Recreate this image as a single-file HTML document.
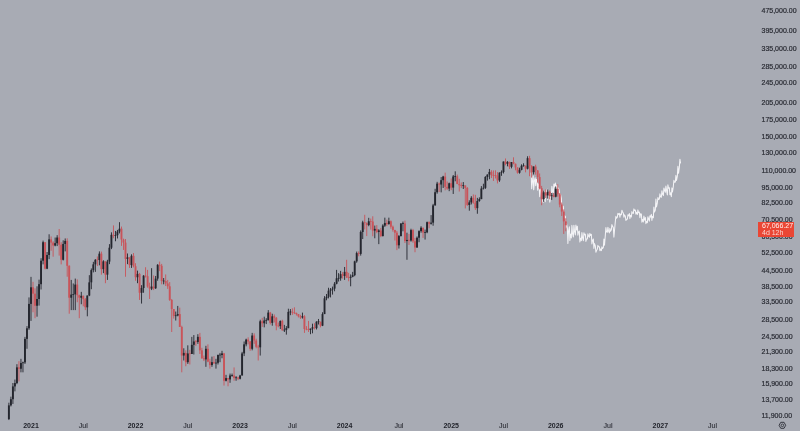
<!DOCTYPE html>
<html><head><meta charset="utf-8"><style>
*{margin:0;padding:0;box-sizing:border-box}
html,body{width:800px;height:431px;overflow:hidden;background:#a8abb4}
body{position:relative;font-family:"Liberation Sans",sans-serif}
svg{position:absolute;left:0;top:0}
.txt{position:absolute;left:0;top:0;width:800px;height:431px;will-change:transform}
.pl{position:absolute;left:761.5px;font-size:7px;line-height:9px;color:#2a2c34;white-space:nowrap;-webkit-text-stroke:0.2px #2a2c34}
.tl{position:absolute;top:420.5px;width:40px;text-align:center;font-size:7px;line-height:9px;color:#2b2d35;-webkit-text-stroke:0.1px #2b2d35}
.tl.b{font-weight:bold;color:#1e2028;-webkit-text-stroke:0}
.tag{position:absolute;left:757.7px;top:222px;width:36.7px;height:15.3px;background:#ea4634;color:#fff3f0;font-size:7px;line-height:6.5px;padding:1px 0 0 4.3px}
.tag span{opacity:.82}
.gear{position:absolute;left:777px;top:420px}
</style></head><body>
<svg width="800" height="431" viewBox="0 0 800 431" style="filter:blur(0.3px)">
<polyline points="531.15,172.9 531.70,188.8 532.30,182.4 533.15,175.9 533.70,189.8 534.30,181.4 535.15,177.7 535.70,185.7 536.30,179.3 537.15,181.5 537.70,190.2 538.30,183.9 539.15,186.6 539.70,196.8 540.30,189.4 541.25,191.1 541.80,202.4 542.40,199.4 543.25,202.1 543.80,190.7 544.40,199.5 545.25,201.7 545.80,190.3 546.40,194.2 547.25,189.2 547.80,199.8 548.40,193.3 549.25,192.2 549.80,202.1 550.40,198.0 551.35,195.5 551.90,186.3 552.50,191.2 553.35,193.0 553.90,184.0 554.50,186.9 555.35,183.0 555.90,190.8 556.50,186.2 557.35,185.1 557.90,192.8 558.50,188.1 559.35,191.0 559.90,199.9 560.50,194.3 561.35,198.4 561.90,208.5 562.50,205.6 563.35,206.5 563.90,218.0 564.50,215.6 565.35,216.4 565.90,228.0 566.50,223.7 567.35,228.1 567.90,243.5 568.50,231.4 569.35,226.8 569.90,240.4 570.50,234.0 571.35,237.9 571.90,225.4 572.50,233.3 573.35,237.0 573.90,225.3 574.50,230.9 575.35,235.0 575.90,225.1 576.50,229.9 577.35,226.2 577.90,235.1 578.50,232.0 579.35,231.1 579.90,242.0 580.50,238.2 581.35,240.6 581.90,232.5 582.50,237.3 583.35,240.7 583.90,232.7 584.50,234.9 585.35,234.2 585.90,241.4 586.50,239.0 587.35,239.0 587.90,233.8 588.50,236.0 589.35,237.2 589.90,233.4 590.50,235.4 591.35,234.4 591.90,244.0 592.50,240.6 593.35,239.0 593.90,248.4 594.50,243.6 595.35,246.0 595.90,252.3 596.50,250.6 597.35,249.2 597.90,245.4 598.50,246.7 599.35,246.8 599.90,250.8 600.50,249.0 601.35,250.6 601.90,246.8 602.50,248.6 603.35,247.5 603.90,239.0 604.50,245.3 605.35,234.9 605.90,227.5 606.50,231.7 607.35,232.3 607.90,227.2 608.50,231.1 609.35,232.9 609.90,228.4 610.50,231.3 611.35,229.7 611.90,224.6 612.50,226.0 613.35,227.8 613.90,237.1 614.50,230.5 615.35,221.3 615.90,216.3 616.50,218.3 617.35,217.1 617.90,213.4 618.50,214.4 619.35,213.3 619.90,217.3 620.50,214.1 621.35,214.7 621.90,210.2 622.50,211.7 623.35,213.3 623.90,217.3 624.50,214.9 625.35,216.2 625.90,220.5 626.50,219.3 627.35,219.3 627.90,214.7 628.50,215.9 629.35,213.6 629.90,218.6 630.50,215.3 631.35,217.0 631.90,211.6 632.50,213.1 633.35,213.4 633.90,208.9 634.50,210.4 635.35,210.1 635.90,214.1 636.50,212.3 637.35,214.5 637.90,209.9 638.50,212.7 639.35,212.1 639.90,217.8 640.50,213.8 641.35,214.0 641.90,222.2 642.50,219.4 643.35,221.9 643.90,216.1 644.50,220.1 645.35,217.6 645.90,223.7 646.50,221.6 647.35,222.7 647.90,216.7 648.50,218.8 649.35,221.1 649.90,215.8 650.50,217.1 651.35,214.4 651.90,220.4 652.50,216.4 653.35,217.8 653.90,207.1 654.50,212.0 655.35,210.0 655.90,199.0 656.50,207.0 657.35,202.9 657.90,197.5 658.50,199.4 659.35,199.0 659.90,193.8 660.50,196.8 661.35,197.3 661.90,190.7 662.50,193.9 663.35,195.6 663.90,188.0 664.50,190.1 665.35,192.2 665.90,186.1 666.50,189.9 667.35,194.9 667.90,184.8 668.50,188.2 669.35,187.8 669.90,194.8 670.50,192.7 671.35,196.6 671.90,187.9 672.50,192.0 673.35,186.3 673.90,180.3 674.50,182.3 675.35,182.1 675.90,175.4 676.50,180.4 677.35,176.1 677.90,166.2 678.50,173.3 679.35,167.5 679.90,159.2 680.50,162.9" fill="none" stroke="#f3f3f6" stroke-width="1.05" stroke-linejoin="round" stroke-linecap="round"/>
<rect x="8.43" y="402.69" width="0.9" height="17.35" fill="#24262e"/>
<rect x="7.93" y="405.36" width="1.9" height="13.73" fill="#24262e"/>
<rect x="10.45" y="396.68" width="0.9" height="9.78" fill="#24262e"/>
<rect x="9.95" y="399.21" width="1.9" height="6.15" fill="#24262e"/>
<rect x="12.46" y="383.00" width="0.9" height="20.94" fill="#24262e"/>
<rect x="11.96" y="386.42" width="1.9" height="12.78" fill="#24262e"/>
<rect x="14.47" y="379.54" width="0.9" height="11.82" fill="#24262e"/>
<rect x="13.97" y="383.07" width="1.9" height="3.36" fill="#24262e"/>
<rect x="16.48" y="364.19" width="0.9" height="19.98" fill="#24262e"/>
<rect x="15.98" y="367.37" width="1.9" height="15.69" fill="#24262e"/>
<rect x="18.49" y="361.16" width="0.9" height="20.26" fill="#c9545a"/>
<rect x="17.99" y="367.37" width="1.9" height="1.38" fill="#c9545a"/>
<rect x="20.50" y="358.82" width="0.9" height="13.50" fill="#24262e"/>
<rect x="20.00" y="363.04" width="1.9" height="5.71" fill="#24262e"/>
<rect x="22.51" y="361.62" width="0.9" height="10.70" fill="#24262e"/>
<rect x="22.01" y="362.33" width="1.9" height="0.80" fill="#24262e"/>
<rect x="24.52" y="336.87" width="0.9" height="27.04" fill="#24262e"/>
<rect x="24.02" y="338.87" width="1.9" height="23.54" fill="#24262e"/>
<rect x="26.53" y="326.10" width="0.9" height="22.69" fill="#24262e"/>
<rect x="26.03" y="328.30" width="1.9" height="10.58" fill="#24262e"/>
<rect x="28.54" y="297.40" width="0.9" height="32.46" fill="#24262e"/>
<rect x="28.04" y="303.90" width="1.9" height="24.40" fill="#24262e"/>
<rect x="30.55" y="276.86" width="0.9" height="44.04" fill="#24262e"/>
<rect x="30.05" y="287.30" width="1.9" height="16.61" fill="#24262e"/>
<rect x="32.56" y="281.82" width="0.9" height="30.44" fill="#c9545a"/>
<rect x="32.06" y="287.30" width="1.9" height="6.37" fill="#c9545a"/>
<rect x="34.57" y="288.31" width="0.9" height="29.89" fill="#c9545a"/>
<rect x="34.07" y="293.67" width="1.9" height="12.09" fill="#c9545a"/>
<rect x="36.58" y="286.29" width="0.9" height="30.39" fill="#24262e"/>
<rect x="36.08" y="298.99" width="1.9" height="6.77" fill="#24262e"/>
<rect x="38.59" y="279.65" width="0.9" height="25.94" fill="#24262e"/>
<rect x="38.09" y="284.17" width="1.9" height="14.82" fill="#24262e"/>
<rect x="40.60" y="258.23" width="0.9" height="31.25" fill="#24262e"/>
<rect x="40.10" y="260.69" width="1.9" height="23.48" fill="#24262e"/>
<rect x="42.61" y="240.59" width="0.9" height="23.77" fill="#24262e"/>
<rect x="42.11" y="242.21" width="1.9" height="18.48" fill="#24262e"/>
<rect x="44.62" y="242.21" width="0.9" height="27.18" fill="#c9545a"/>
<rect x="44.12" y="242.21" width="1.9" height="26.45" fill="#c9545a"/>
<rect x="46.63" y="252.00" width="0.9" height="17.15" fill="#24262e"/>
<rect x="46.13" y="254.96" width="1.9" height="13.70" fill="#24262e"/>
<rect x="48.64" y="234.28" width="0.9" height="24.84" fill="#24262e"/>
<rect x="48.14" y="239.38" width="1.9" height="15.58" fill="#24262e"/>
<rect x="50.66" y="236.44" width="0.9" height="14.31" fill="#c9545a"/>
<rect x="50.16" y="239.38" width="1.9" height="3.21" fill="#c9545a"/>
<rect x="52.67" y="241.26" width="0.9" height="15.44" fill="#c9545a"/>
<rect x="52.17" y="242.59" width="1.9" height="2.92" fill="#c9545a"/>
<rect x="54.68" y="237.53" width="0.9" height="8.77" fill="#24262e"/>
<rect x="54.18" y="243.17" width="1.9" height="2.34" fill="#24262e"/>
<rect x="56.69" y="235.17" width="0.9" height="10.92" fill="#24262e"/>
<rect x="56.19" y="237.53" width="1.9" height="5.64" fill="#24262e"/>
<rect x="58.70" y="228.99" width="0.9" height="26.62" fill="#c9545a"/>
<rect x="58.20" y="237.53" width="1.9" height="7.19" fill="#c9545a"/>
<rect x="60.71" y="242.21" width="0.9" height="22.16" fill="#c9545a"/>
<rect x="60.21" y="244.72" width="1.9" height="15.07" fill="#c9545a"/>
<rect x="62.72" y="240.31" width="0.9" height="20.15" fill="#24262e"/>
<rect x="62.22" y="243.94" width="1.9" height="15.85" fill="#24262e"/>
<rect x="64.73" y="238.45" width="0.9" height="12.92" fill="#24262e"/>
<rect x="64.23" y="240.88" width="1.9" height="3.06" fill="#24262e"/>
<rect x="66.74" y="238.27" width="0.9" height="38.46" fill="#c9545a"/>
<rect x="66.24" y="240.88" width="1.9" height="24.90" fill="#c9545a"/>
<rect x="68.75" y="265.31" width="0.9" height="48.40" fill="#c9545a"/>
<rect x="68.25" y="265.78" width="1.9" height="31.93" fill="#c9545a"/>
<rect x="70.76" y="279.91" width="0.9" height="30.19" fill="#24262e"/>
<rect x="70.26" y="294.59" width="1.9" height="3.12" fill="#24262e"/>
<rect x="72.77" y="283.47" width="0.9" height="26.63" fill="#24262e"/>
<rect x="72.27" y="294.04" width="1.9" height="0.80" fill="#24262e"/>
<rect x="74.78" y="278.58" width="0.9" height="31.53" fill="#24262e"/>
<rect x="74.28" y="284.59" width="1.9" height="9.69" fill="#24262e"/>
<rect x="76.79" y="279.38" width="0.9" height="22.86" fill="#c9545a"/>
<rect x="76.29" y="284.59" width="1.9" height="10.62" fill="#c9545a"/>
<rect x="78.80" y="294.59" width="0.9" height="23.60" fill="#c9545a"/>
<rect x="78.30" y="295.21" width="1.9" height="2.50" fill="#c9545a"/>
<rect x="80.81" y="291.85" width="0.9" height="12.38" fill="#24262e"/>
<rect x="80.31" y="295.83" width="1.9" height="1.88" fill="#24262e"/>
<rect x="82.82" y="295.52" width="0.9" height="10.75" fill="#c9545a"/>
<rect x="82.32" y="295.83" width="1.9" height="3.35" fill="#c9545a"/>
<rect x="84.83" y="298.03" width="0.9" height="12.07" fill="#c9545a"/>
<rect x="84.33" y="299.18" width="1.9" height="8.12" fill="#c9545a"/>
<rect x="86.84" y="295.52" width="0.9" height="20.78" fill="#24262e"/>
<rect x="86.34" y="295.52" width="1.9" height="11.79" fill="#24262e"/>
<rect x="88.85" y="275.17" width="0.9" height="20.97" fill="#24262e"/>
<rect x="88.35" y="282.37" width="1.9" height="13.15" fill="#24262e"/>
<rect x="90.86" y="268.42" width="0.9" height="20.77" fill="#24262e"/>
<rect x="90.36" y="270.13" width="1.9" height="12.24" fill="#24262e"/>
<rect x="92.88" y="261.83" width="0.9" height="10.54" fill="#24262e"/>
<rect x="92.38" y="264.37" width="1.9" height="5.76" fill="#24262e"/>
<rect x="94.89" y="259.12" width="0.9" height="12.75" fill="#24262e"/>
<rect x="94.39" y="259.79" width="1.9" height="4.58" fill="#24262e"/>
<rect x="96.90" y="256.47" width="0.9" height="9.54" fill="#c9545a"/>
<rect x="96.40" y="259.50" width="1.9" height="0.80" fill="#c9545a"/>
<rect x="98.91" y="251.37" width="0.9" height="13.94" fill="#24262e"/>
<rect x="98.41" y="253.68" width="1.9" height="6.33" fill="#24262e"/>
<rect x="100.92" y="251.58" width="0.9" height="23.08" fill="#c9545a"/>
<rect x="100.42" y="253.68" width="1.9" height="15.47" fill="#c9545a"/>
<rect x="102.93" y="260.24" width="0.9" height="12.89" fill="#24262e"/>
<rect x="102.43" y="261.37" width="1.9" height="7.78" fill="#24262e"/>
<rect x="104.94" y="261.37" width="0.9" height="21.83" fill="#c9545a"/>
<rect x="104.44" y="261.37" width="1.9" height="13.29" fill="#c9545a"/>
<rect x="106.95" y="259.79" width="0.9" height="20.13" fill="#24262e"/>
<rect x="106.45" y="261.60" width="1.9" height="13.06" fill="#24262e"/>
<rect x="108.96" y="244.14" width="0.9" height="20.00" fill="#24262e"/>
<rect x="108.46" y="247.69" width="1.9" height="13.90" fill="#24262e"/>
<rect x="110.97" y="232.34" width="0.9" height="16.77" fill="#24262e"/>
<rect x="110.47" y="234.82" width="1.9" height="12.88" fill="#24262e"/>
<rect x="112.98" y="225.40" width="0.9" height="12.86" fill="#c9545a"/>
<rect x="112.48" y="234.82" width="1.9" height="1.08" fill="#c9545a"/>
<rect x="114.99" y="230.95" width="0.9" height="10.30" fill="#24262e"/>
<rect x="114.49" y="235.13" width="1.9" height="0.80" fill="#24262e"/>
<rect x="117.00" y="229.92" width="0.9" height="8.53" fill="#24262e"/>
<rect x="116.50" y="231.65" width="1.9" height="3.53" fill="#24262e"/>
<rect x="119.01" y="222.17" width="0.9" height="11.23" fill="#24262e"/>
<rect x="118.51" y="228.73" width="1.9" height="2.91" fill="#24262e"/>
<rect x="121.02" y="226.56" width="0.9" height="19.34" fill="#c9545a"/>
<rect x="120.52" y="228.73" width="1.9" height="10.83" fill="#c9545a"/>
<rect x="123.03" y="238.63" width="0.9" height="11.29" fill="#c9545a"/>
<rect x="122.53" y="239.56" width="1.9" height="3.03" fill="#c9545a"/>
<rect x="125.04" y="239.01" width="0.9" height="37.72" fill="#c9545a"/>
<rect x="124.54" y="242.59" width="1.9" height="16.30" fill="#c9545a"/>
<rect x="127.05" y="253.47" width="0.9" height="10.67" fill="#24262e"/>
<rect x="126.55" y="257.35" width="1.9" height="1.55" fill="#24262e"/>
<rect x="129.06" y="257.35" width="0.9" height="10.58" fill="#c9545a"/>
<rect x="128.56" y="257.35" width="1.9" height="7.72" fill="#c9545a"/>
<rect x="131.07" y="254.32" width="0.9" height="13.61" fill="#24262e"/>
<rect x="130.57" y="255.82" width="1.9" height="9.25" fill="#24262e"/>
<rect x="133.09" y="253.05" width="0.9" height="14.40" fill="#c9545a"/>
<rect x="132.59" y="255.82" width="1.9" height="10.43" fill="#c9545a"/>
<rect x="135.10" y="263.20" width="0.9" height="17.52" fill="#c9545a"/>
<rect x="134.60" y="266.25" width="1.9" height="11.00" fill="#c9545a"/>
<rect x="137.11" y="270.62" width="0.9" height="12.57" fill="#24262e"/>
<rect x="136.61" y="273.89" width="1.9" height="3.37" fill="#24262e"/>
<rect x="139.12" y="272.87" width="0.9" height="27.08" fill="#c9545a"/>
<rect x="138.62" y="273.89" width="1.9" height="18.87" fill="#c9545a"/>
<rect x="141.13" y="285.16" width="0.9" height="18.41" fill="#24262e"/>
<rect x="140.63" y="288.02" width="1.9" height="4.74" fill="#24262e"/>
<rect x="143.14" y="275.17" width="0.9" height="17.59" fill="#24262e"/>
<rect x="142.64" y="275.69" width="1.9" height="12.33" fill="#24262e"/>
<rect x="145.15" y="267.21" width="0.9" height="10.31" fill="#c9545a"/>
<rect x="144.65" y="275.55" width="1.9" height="0.80" fill="#c9545a"/>
<rect x="147.16" y="269.88" width="0.9" height="17.85" fill="#c9545a"/>
<rect x="146.66" y="276.21" width="1.9" height="10.37" fill="#c9545a"/>
<rect x="149.17" y="282.64" width="0.9" height="16.34" fill="#c9545a"/>
<rect x="148.67" y="286.58" width="1.9" height="2.02" fill="#c9545a"/>
<rect x="151.18" y="268.17" width="0.9" height="21.89" fill="#24262e"/>
<rect x="150.68" y="286.58" width="1.9" height="2.02" fill="#24262e"/>
<rect x="153.19" y="275.43" width="0.9" height="14.64" fill="#c9545a"/>
<rect x="152.69" y="286.58" width="1.9" height="1.73" fill="#c9545a"/>
<rect x="155.20" y="275.95" width="0.9" height="12.94" fill="#24262e"/>
<rect x="154.70" y="278.58" width="1.9" height="9.73" fill="#24262e"/>
<rect x="157.21" y="264.13" width="0.9" height="16.59" fill="#24262e"/>
<rect x="156.71" y="264.84" width="1.9" height="13.74" fill="#24262e"/>
<rect x="159.22" y="261.60" width="0.9" height="9.52" fill="#c9545a"/>
<rect x="158.72" y="264.84" width="1.9" height="0.94" fill="#c9545a"/>
<rect x="161.23" y="263.90" width="0.9" height="20.41" fill="#c9545a"/>
<rect x="160.73" y="265.78" width="1.9" height="15.22" fill="#c9545a"/>
<rect x="163.24" y="278.05" width="0.9" height="6.27" fill="#24262e"/>
<rect x="162.74" y="280.60" width="1.9" height="0.80" fill="#24262e"/>
<rect x="165.25" y="274.40" width="0.9" height="11.61" fill="#c9545a"/>
<rect x="164.75" y="281.00" width="1.9" height="2.48" fill="#c9545a"/>
<rect x="167.26" y="279.91" width="0.9" height="8.98" fill="#c9545a"/>
<rect x="166.76" y="283.47" width="1.9" height="2.82" fill="#c9545a"/>
<rect x="169.27" y="282.09" width="0.9" height="18.83" fill="#c9545a"/>
<rect x="168.77" y="286.29" width="1.9" height="13.66" fill="#c9545a"/>
<rect x="171.28" y="298.99" width="0.9" height="33.01" fill="#c9545a"/>
<rect x="170.78" y="299.95" width="1.9" height="9.09" fill="#c9545a"/>
<rect x="173.30" y="309.05" width="0.9" height="9.53" fill="#c9545a"/>
<rect x="172.80" y="309.05" width="1.9" height="6.88" fill="#c9545a"/>
<rect x="175.31" y="311.53" width="0.9" height="8.98" fill="#24262e"/>
<rect x="174.81" y="315.34" width="1.9" height="0.80" fill="#24262e"/>
<rect x="177.32" y="305.93" width="0.9" height="10.37" fill="#24262e"/>
<rect x="176.82" y="314.07" width="1.9" height="1.48" fill="#24262e"/>
<rect x="179.33" y="307.65" width="0.9" height="19.28" fill="#c9545a"/>
<rect x="178.83" y="314.07" width="1.9" height="12.85" fill="#c9545a"/>
<rect x="181.34" y="325.69" width="0.9" height="46.62" fill="#c9545a"/>
<rect x="180.84" y="326.93" width="1.9" height="28.63" fill="#c9545a"/>
<rect x="183.35" y="348.29" width="0.9" height="12.19" fill="#24262e"/>
<rect x="182.85" y="352.91" width="1.9" height="2.65" fill="#24262e"/>
<rect x="185.36" y="350.32" width="0.9" height="15.92" fill="#c9545a"/>
<rect x="184.86" y="352.91" width="1.9" height="9.28" fill="#c9545a"/>
<rect x="187.37" y="345.32" width="0.9" height="18.58" fill="#24262e"/>
<rect x="186.87" y="353.43" width="1.9" height="8.75" fill="#24262e"/>
<rect x="189.38" y="349.81" width="0.9" height="14.68" fill="#c9545a"/>
<rect x="188.88" y="353.29" width="1.9" height="0.80" fill="#c9545a"/>
<rect x="191.39" y="336.87" width="0.9" height="17.09" fill="#24262e"/>
<rect x="190.89" y="344.84" width="1.9" height="9.12" fill="#24262e"/>
<rect x="193.40" y="335.07" width="0.9" height="19.42" fill="#24262e"/>
<rect x="192.90" y="341.48" width="1.9" height="3.35" fill="#24262e"/>
<rect x="195.41" y="340.08" width="0.9" height="5.74" fill="#c9545a"/>
<rect x="194.91" y="341.32" width="1.9" height="0.80" fill="#c9545a"/>
<rect x="197.42" y="334.18" width="0.9" height="9.68" fill="#24262e"/>
<rect x="196.92" y="336.87" width="1.9" height="5.09" fill="#24262e"/>
<rect x="199.43" y="332.87" width="0.9" height="21.09" fill="#c9545a"/>
<rect x="198.93" y="336.87" width="1.9" height="13.45" fill="#c9545a"/>
<rect x="201.44" y="347.79" width="0.9" height="11.03" fill="#c9545a"/>
<rect x="200.94" y="350.32" width="1.9" height="7.95" fill="#c9545a"/>
<rect x="203.45" y="355.55" width="0.9" height="5.50" fill="#c9545a"/>
<rect x="202.95" y="358.27" width="1.9" height="1.10" fill="#c9545a"/>
<rect x="205.46" y="345.81" width="0.9" height="21.02" fill="#24262e"/>
<rect x="204.96" y="348.80" width="1.9" height="10.58" fill="#24262e"/>
<rect x="207.47" y="344.35" width="0.9" height="17.83" fill="#c9545a"/>
<rect x="206.97" y="348.80" width="1.9" height="12.82" fill="#c9545a"/>
<rect x="209.48" y="358.82" width="0.9" height="9.81" fill="#c9545a"/>
<rect x="208.98" y="361.62" width="1.9" height="3.45" fill="#c9545a"/>
<rect x="211.50" y="356.63" width="0.9" height="10.20" fill="#24262e"/>
<rect x="211.00" y="362.18" width="1.9" height="2.88" fill="#24262e"/>
<rect x="213.51" y="356.09" width="0.9" height="7.81" fill="#c9545a"/>
<rect x="213.01" y="362.18" width="1.9" height="1.14" fill="#c9545a"/>
<rect x="215.52" y="358.82" width="0.9" height="9.81" fill="#24262e"/>
<rect x="215.02" y="362.64" width="1.9" height="0.80" fill="#24262e"/>
<rect x="217.53" y="354.49" width="0.9" height="10.00" fill="#24262e"/>
<rect x="217.03" y="355.02" width="1.9" height="7.73" fill="#24262e"/>
<rect x="219.54" y="352.91" width="0.9" height="9.28" fill="#24262e"/>
<rect x="219.04" y="354.62" width="1.9" height="0.80" fill="#24262e"/>
<rect x="221.55" y="350.83" width="0.9" height="7.44" fill="#24262e"/>
<rect x="221.05" y="353.43" width="1.9" height="1.59" fill="#24262e"/>
<rect x="223.56" y="352.91" width="0.9" height="32.67" fill="#c9545a"/>
<rect x="223.06" y="353.43" width="1.9" height="27.32" fill="#c9545a"/>
<rect x="225.57" y="374.84" width="0.9" height="6.58" fill="#24262e"/>
<rect x="225.07" y="378.09" width="1.9" height="2.66" fill="#24262e"/>
<rect x="227.58" y="378.09" width="0.9" height="8.20" fill="#c9545a"/>
<rect x="227.08" y="378.09" width="1.9" height="1.32" fill="#c9545a"/>
<rect x="229.59" y="373.57" width="0.9" height="9.22" fill="#24262e"/>
<rect x="229.09" y="375.48" width="1.9" height="3.93" fill="#24262e"/>
<rect x="231.60" y="373.57" width="0.9" height="3.20" fill="#24262e"/>
<rect x="231.10" y="375.08" width="1.9" height="0.80" fill="#24262e"/>
<rect x="233.61" y="367.43" width="0.9" height="13.32" fill="#c9545a"/>
<rect x="233.11" y="375.48" width="1.9" height="2.60" fill="#c9545a"/>
<rect x="235.62" y="376.13" width="0.9" height="4.62" fill="#24262e"/>
<rect x="235.12" y="377.36" width="1.9" height="0.80" fill="#24262e"/>
<rect x="237.63" y="376.78" width="0.9" height="3.30" fill="#c9545a"/>
<rect x="237.13" y="377.43" width="1.9" height="1.32" fill="#c9545a"/>
<rect x="239.64" y="374.84" width="0.9" height="4.57" fill="#24262e"/>
<rect x="239.14" y="375.48" width="1.9" height="3.26" fill="#24262e"/>
<rect x="241.65" y="351.86" width="0.9" height="23.62" fill="#24262e"/>
<rect x="241.15" y="353.43" width="1.9" height="22.05" fill="#24262e"/>
<rect x="243.66" y="341.48" width="0.9" height="14.61" fill="#24262e"/>
<rect x="243.16" y="344.35" width="1.9" height="9.08" fill="#24262e"/>
<rect x="245.67" y="338.69" width="0.9" height="7.62" fill="#24262e"/>
<rect x="245.17" y="339.61" width="1.9" height="4.74" fill="#24262e"/>
<rect x="247.68" y="337.32" width="0.9" height="7.03" fill="#c9545a"/>
<rect x="247.18" y="339.61" width="1.9" height="1.87" fill="#c9545a"/>
<rect x="249.69" y="341.01" width="0.9" height="9.82" fill="#c9545a"/>
<rect x="249.19" y="341.48" width="1.9" height="7.31" fill="#c9545a"/>
<rect x="251.71" y="332.87" width="0.9" height="17.45" fill="#24262e"/>
<rect x="251.21" y="335.52" width="1.9" height="13.28" fill="#24262e"/>
<rect x="253.72" y="333.31" width="0.9" height="10.56" fill="#c9545a"/>
<rect x="253.22" y="335.52" width="1.9" height="5.03" fill="#c9545a"/>
<rect x="255.73" y="338.69" width="0.9" height="9.60" fill="#c9545a"/>
<rect x="255.23" y="340.54" width="1.9" height="6.25" fill="#c9545a"/>
<rect x="257.74" y="344.84" width="0.9" height="15.65" fill="#c9545a"/>
<rect x="257.24" y="346.65" width="1.9" height="0.80" fill="#c9545a"/>
<rect x="259.75" y="319.73" width="0.9" height="35.82" fill="#24262e"/>
<rect x="259.25" y="321.29" width="1.9" height="26.01" fill="#24262e"/>
<rect x="261.76" y="317.81" width="0.9" height="9.11" fill="#c9545a"/>
<rect x="261.26" y="321.29" width="1.9" height="1.98" fill="#c9545a"/>
<rect x="263.77" y="316.68" width="0.9" height="10.66" fill="#24262e"/>
<rect x="263.27" y="320.51" width="1.9" height="2.76" fill="#24262e"/>
<rect x="265.78" y="318.19" width="0.9" height="5.88" fill="#24262e"/>
<rect x="265.28" y="319.91" width="1.9" height="0.80" fill="#24262e"/>
<rect x="267.79" y="310.10" width="0.9" height="10.40" fill="#24262e"/>
<rect x="267.29" y="312.61" width="1.9" height="7.50" fill="#24262e"/>
<rect x="269.80" y="311.89" width="0.9" height="12.58" fill="#c9545a"/>
<rect x="269.30" y="312.61" width="1.9" height="10.26" fill="#c9545a"/>
<rect x="271.81" y="313.71" width="0.9" height="11.99" fill="#24262e"/>
<rect x="271.31" y="316.30" width="1.9" height="6.57" fill="#24262e"/>
<rect x="273.82" y="314.44" width="0.9" height="8.03" fill="#c9545a"/>
<rect x="273.32" y="316.30" width="1.9" height="1.51" fill="#c9545a"/>
<rect x="275.83" y="317.05" width="0.9" height="13.23" fill="#c9545a"/>
<rect x="275.33" y="317.81" width="1.9" height="7.88" fill="#c9545a"/>
<rect x="277.84" y="322.47" width="0.9" height="4.87" fill="#c9545a"/>
<rect x="277.34" y="325.50" width="1.9" height="0.80" fill="#c9545a"/>
<rect x="279.85" y="320.51" width="0.9" height="8.50" fill="#24262e"/>
<rect x="279.35" y="320.90" width="1.9" height="5.21" fill="#24262e"/>
<rect x="281.86" y="319.73" width="0.9" height="10.98" fill="#c9545a"/>
<rect x="281.36" y="320.90" width="1.9" height="9.38" fill="#c9545a"/>
<rect x="283.87" y="324.88" width="0.9" height="7.12" fill="#24262e"/>
<rect x="283.37" y="329.67" width="1.9" height="0.80" fill="#24262e"/>
<rect x="285.88" y="326.10" width="0.9" height="8.52" fill="#24262e"/>
<rect x="285.38" y="328.17" width="1.9" height="1.68" fill="#24262e"/>
<rect x="287.89" y="308.69" width="0.9" height="19.48" fill="#24262e"/>
<rect x="287.39" y="311.89" width="1.9" height="16.28" fill="#24262e"/>
<rect x="289.90" y="309.05" width="0.9" height="6.14" fill="#24262e"/>
<rect x="289.40" y="311.49" width="1.9" height="0.80" fill="#24262e"/>
<rect x="291.92" y="308.35" width="0.9" height="6.47" fill="#c9545a"/>
<rect x="291.42" y="311.85" width="1.9" height="0.80" fill="#c9545a"/>
<rect x="293.93" y="307.30" width="0.9" height="6.77" fill="#c9545a"/>
<rect x="293.43" y="312.40" width="1.9" height="0.80" fill="#c9545a"/>
<rect x="295.94" y="312.61" width="0.9" height="2.94" fill="#c9545a"/>
<rect x="295.44" y="312.98" width="1.9" height="1.10" fill="#c9545a"/>
<rect x="297.95" y="314.07" width="0.9" height="3.36" fill="#c9545a"/>
<rect x="297.45" y="314.07" width="1.9" height="2.23" fill="#c9545a"/>
<rect x="299.96" y="314.81" width="0.9" height="4.15" fill="#c9545a"/>
<rect x="299.46" y="316.30" width="1.9" height="1.13" fill="#c9545a"/>
<rect x="301.97" y="312.61" width="0.9" height="5.96" fill="#24262e"/>
<rect x="301.47" y="316.30" width="1.9" height="1.13" fill="#24262e"/>
<rect x="303.98" y="315.18" width="0.9" height="17.69" fill="#c9545a"/>
<rect x="303.48" y="316.30" width="1.9" height="12.71" fill="#c9545a"/>
<rect x="305.99" y="326.10" width="0.9" height="4.18" fill="#c9545a"/>
<rect x="305.49" y="328.82" width="1.9" height="0.80" fill="#c9545a"/>
<rect x="308.00" y="320.90" width="0.9" height="11.10" fill="#c9545a"/>
<rect x="307.50" y="329.25" width="1.9" height="0.80" fill="#c9545a"/>
<rect x="310.01" y="328.59" width="0.9" height="5.59" fill="#24262e"/>
<rect x="309.51" y="328.59" width="1.9" height="1.27" fill="#24262e"/>
<rect x="312.02" y="323.67" width="0.9" height="9.64" fill="#24262e"/>
<rect x="311.52" y="327.34" width="1.9" height="1.25" fill="#24262e"/>
<rect x="314.03" y="323.27" width="0.9" height="6.16" fill="#c9545a"/>
<rect x="313.53" y="327.34" width="1.9" height="0.83" fill="#c9545a"/>
<rect x="316.04" y="321.29" width="0.9" height="8.14" fill="#24262e"/>
<rect x="315.54" y="321.68" width="1.9" height="6.49" fill="#24262e"/>
<rect x="318.05" y="318.96" width="0.9" height="5.52" fill="#24262e"/>
<rect x="317.55" y="321.28" width="1.9" height="0.80" fill="#24262e"/>
<rect x="320.06" y="321.68" width="0.9" height="5.66" fill="#c9545a"/>
<rect x="319.56" y="321.68" width="1.9" height="4.01" fill="#c9545a"/>
<rect x="322.07" y="312.25" width="0.9" height="13.85" fill="#24262e"/>
<rect x="321.57" y="314.07" width="1.9" height="11.62" fill="#24262e"/>
<rect x="324.08" y="296.14" width="0.9" height="17.93" fill="#24262e"/>
<rect x="323.58" y="298.35" width="1.9" height="15.73" fill="#24262e"/>
<rect x="326.09" y="293.98" width="0.9" height="6.30" fill="#24262e"/>
<rect x="325.59" y="296.77" width="1.9" height="1.58" fill="#24262e"/>
<rect x="328.10" y="287.73" width="0.9" height="10.62" fill="#24262e"/>
<rect x="327.60" y="290.66" width="1.9" height="6.11" fill="#24262e"/>
<rect x="330.11" y="288.02" width="0.9" height="9.38" fill="#24262e"/>
<rect x="329.61" y="289.48" width="1.9" height="1.18" fill="#24262e"/>
<rect x="332.12" y="286.58" width="0.9" height="8.01" fill="#24262e"/>
<rect x="331.62" y="288.60" width="1.9" height="0.88" fill="#24262e"/>
<rect x="334.14" y="282.09" width="0.9" height="9.16" fill="#24262e"/>
<rect x="333.64" y="283.75" width="1.9" height="4.85" fill="#24262e"/>
<rect x="336.15" y="269.88" width="0.9" height="14.43" fill="#24262e"/>
<rect x="335.65" y="278.31" width="1.9" height="5.44" fill="#24262e"/>
<rect x="338.16" y="273.13" width="0.9" height="8.42" fill="#24262e"/>
<rect x="337.66" y="277.91" width="1.9" height="0.80" fill="#24262e"/>
<rect x="340.17" y="270.87" width="0.9" height="9.86" fill="#24262e"/>
<rect x="339.67" y="274.14" width="1.9" height="4.17" fill="#24262e"/>
<rect x="342.18" y="272.12" width="0.9" height="6.46" fill="#c9545a"/>
<rect x="341.68" y="274.14" width="1.9" height="1.80" fill="#c9545a"/>
<rect x="344.19" y="266.97" width="0.9" height="12.94" fill="#24262e"/>
<rect x="343.69" y="271.87" width="1.9" height="4.08" fill="#24262e"/>
<rect x="346.20" y="259.79" width="0.9" height="18.26" fill="#c9545a"/>
<rect x="345.70" y="271.87" width="1.9" height="5.65" fill="#c9545a"/>
<rect x="348.21" y="272.87" width="0.9" height="8.40" fill="#c9545a"/>
<rect x="347.71" y="277.25" width="1.9" height="0.80" fill="#c9545a"/>
<rect x="350.22" y="274.40" width="0.9" height="11.89" fill="#24262e"/>
<rect x="349.72" y="276.73" width="1.9" height="1.05" fill="#24262e"/>
<rect x="352.23" y="271.87" width="0.9" height="5.39" fill="#24262e"/>
<rect x="351.73" y="275.17" width="1.9" height="1.56" fill="#24262e"/>
<rect x="354.24" y="260.69" width="0.9" height="15.52" fill="#24262e"/>
<rect x="353.74" y="261.37" width="1.9" height="13.80" fill="#24262e"/>
<rect x="356.25" y="251.58" width="0.9" height="11.16" fill="#24262e"/>
<rect x="355.75" y="253.05" width="1.9" height="8.32" fill="#24262e"/>
<rect x="358.26" y="251.37" width="0.9" height="4.89" fill="#c9545a"/>
<rect x="357.76" y="253.05" width="1.9" height="0.85" fill="#c9545a"/>
<rect x="360.27" y="230.44" width="0.9" height="25.17" fill="#24262e"/>
<rect x="359.77" y="231.99" width="1.9" height="21.90" fill="#24262e"/>
<rect x="362.28" y="220.75" width="0.9" height="18.26" fill="#24262e"/>
<rect x="361.78" y="222.33" width="1.9" height="9.66" fill="#24262e"/>
<rect x="364.29" y="214.78" width="0.9" height="14.63" fill="#c9545a"/>
<rect x="363.79" y="222.33" width="1.9" height="0.80" fill="#c9545a"/>
<rect x="366.30" y="222.33" width="0.9" height="13.74" fill="#c9545a"/>
<rect x="365.80" y="223.13" width="1.9" height="1.95" fill="#c9545a"/>
<rect x="368.31" y="217.80" width="0.9" height="8.43" fill="#24262e"/>
<rect x="367.81" y="221.22" width="1.9" height="3.86" fill="#24262e"/>
<rect x="370.32" y="218.57" width="0.9" height="11.02" fill="#c9545a"/>
<rect x="369.82" y="220.98" width="1.9" height="0.80" fill="#c9545a"/>
<rect x="372.33" y="216.28" width="0.9" height="19.98" fill="#c9545a"/>
<rect x="371.83" y="221.54" width="1.9" height="9.07" fill="#c9545a"/>
<rect x="374.35" y="225.57" width="0.9" height="12.70" fill="#24262e"/>
<rect x="373.85" y="228.90" width="1.9" height="1.71" fill="#24262e"/>
<rect x="376.36" y="225.08" width="0.9" height="8.14" fill="#c9545a"/>
<rect x="375.86" y="228.90" width="1.9" height="3.09" fill="#c9545a"/>
<rect x="378.37" y="229.24" width="0.9" height="14.89" fill="#24262e"/>
<rect x="377.87" y="230.44" width="1.9" height="1.56" fill="#24262e"/>
<rect x="380.38" y="227.89" width="0.9" height="9.27" fill="#c9545a"/>
<rect x="379.88" y="230.44" width="1.9" height="5.64" fill="#c9545a"/>
<rect x="382.39" y="224.26" width="0.9" height="12.18" fill="#24262e"/>
<rect x="381.89" y="225.57" width="1.9" height="10.51" fill="#24262e"/>
<rect x="384.40" y="217.65" width="0.9" height="9.24" fill="#24262e"/>
<rect x="383.90" y="222.97" width="1.9" height="2.60" fill="#24262e"/>
<rect x="386.41" y="219.65" width="0.9" height="6.41" fill="#c9545a"/>
<rect x="385.91" y="222.97" width="1.9" height="1.13" fill="#c9545a"/>
<rect x="388.42" y="217.65" width="0.9" height="6.94" fill="#24262e"/>
<rect x="387.92" y="221.22" width="1.9" height="2.88" fill="#24262e"/>
<rect x="390.43" y="220.43" width="0.9" height="8.30" fill="#c9545a"/>
<rect x="389.93" y="221.22" width="1.9" height="5.50" fill="#c9545a"/>
<rect x="392.44" y="225.57" width="0.9" height="6.08" fill="#c9545a"/>
<rect x="391.94" y="226.72" width="1.9" height="3.20" fill="#c9545a"/>
<rect x="394.45" y="229.92" width="0.9" height="10.58" fill="#c9545a"/>
<rect x="393.95" y="229.92" width="1.9" height="2.77" fill="#c9545a"/>
<rect x="396.46" y="230.95" width="0.9" height="19.18" fill="#c9545a"/>
<rect x="395.96" y="232.69" width="1.9" height="12.62" fill="#c9545a"/>
<rect x="398.47" y="235.00" width="0.9" height="13.51" fill="#24262e"/>
<rect x="397.97" y="236.07" width="1.9" height="9.23" fill="#24262e"/>
<rect x="400.48" y="223.29" width="0.9" height="13.15" fill="#24262e"/>
<rect x="399.98" y="223.45" width="1.9" height="12.62" fill="#24262e"/>
<rect x="402.49" y="221.54" width="0.9" height="9.76" fill="#24262e"/>
<rect x="401.99" y="223.05" width="1.9" height="0.80" fill="#24262e"/>
<rect x="404.50" y="220.59" width="0.9" height="22.39" fill="#c9545a"/>
<rect x="404.00" y="223.45" width="1.9" height="17.61" fill="#c9545a"/>
<rect x="406.51" y="232.69" width="0.9" height="27.09" fill="#24262e"/>
<rect x="406.01" y="239.94" width="1.9" height="1.13" fill="#24262e"/>
<rect x="408.52" y="233.93" width="0.9" height="10.99" fill="#c9545a"/>
<rect x="408.02" y="239.82" width="1.9" height="0.80" fill="#c9545a"/>
<rect x="410.53" y="228.73" width="0.9" height="12.90" fill="#24262e"/>
<rect x="410.03" y="230.09" width="1.9" height="10.41" fill="#24262e"/>
<rect x="412.55" y="228.90" width="0.9" height="13.88" fill="#c9545a"/>
<rect x="412.05" y="230.09" width="1.9" height="11.16" fill="#c9545a"/>
<rect x="414.56" y="237.90" width="0.9" height="14.31" fill="#c9545a"/>
<rect x="414.06" y="241.26" width="1.9" height="6.24" fill="#c9545a"/>
<rect x="416.57" y="236.44" width="0.9" height="11.46" fill="#24262e"/>
<rect x="416.07" y="237.71" width="1.9" height="9.78" fill="#24262e"/>
<rect x="418.58" y="230.27" width="0.9" height="11.94" fill="#24262e"/>
<rect x="418.08" y="231.13" width="1.9" height="6.59" fill="#24262e"/>
<rect x="420.59" y="226.23" width="0.9" height="6.47" fill="#24262e"/>
<rect x="420.09" y="227.72" width="1.9" height="3.40" fill="#24262e"/>
<rect x="422.60" y="227.72" width="0.9" height="10.17" fill="#c9545a"/>
<rect x="422.10" y="227.72" width="1.9" height="4.79" fill="#c9545a"/>
<rect x="424.61" y="229.58" width="0.9" height="9.98" fill="#24262e"/>
<rect x="424.11" y="232.03" width="1.9" height="0.80" fill="#24262e"/>
<rect x="426.62" y="221.54" width="0.9" height="11.68" fill="#24262e"/>
<rect x="426.12" y="222.17" width="1.9" height="10.17" fill="#24262e"/>
<rect x="428.63" y="221.38" width="0.9" height="6.85" fill="#c9545a"/>
<rect x="428.13" y="222.17" width="1.9" height="1.60" fill="#c9545a"/>
<rect x="430.64" y="215.08" width="0.9" height="9.51" fill="#24262e"/>
<rect x="430.14" y="222.65" width="1.9" height="1.13" fill="#24262e"/>
<rect x="432.65" y="203.87" width="0.9" height="21.86" fill="#24262e"/>
<rect x="432.15" y="205.37" width="1.9" height="17.28" fill="#24262e"/>
<rect x="434.66" y="188.78" width="0.9" height="16.86" fill="#24262e"/>
<rect x="434.16" y="192.24" width="1.9" height="13.13" fill="#24262e"/>
<rect x="436.67" y="181.83" width="0.9" height="11.87" fill="#24262e"/>
<rect x="436.17" y="183.61" width="1.9" height="8.63" fill="#24262e"/>
<rect x="438.68" y="182.61" width="0.9" height="9.39" fill="#c9545a"/>
<rect x="438.18" y="183.61" width="1.9" height="0.90" fill="#c9545a"/>
<rect x="440.69" y="177.08" width="0.9" height="15.28" fill="#24262e"/>
<rect x="440.19" y="180.19" width="1.9" height="4.32" fill="#24262e"/>
<rect x="442.70" y="175.82" width="0.9" height="12.14" fill="#24262e"/>
<rect x="442.20" y="176.55" width="1.9" height="3.64" fill="#24262e"/>
<rect x="444.71" y="172.63" width="0.9" height="17.69" fill="#c9545a"/>
<rect x="444.21" y="176.55" width="1.9" height="10.24" fill="#c9545a"/>
<rect x="446.72" y="181.50" width="0.9" height="8.34" fill="#c9545a"/>
<rect x="446.22" y="186.80" width="1.9" height="1.75" fill="#c9545a"/>
<rect x="448.73" y="182.61" width="0.9" height="8.55" fill="#24262e"/>
<rect x="448.23" y="183.27" width="1.9" height="5.27" fill="#24262e"/>
<rect x="450.74" y="178.46" width="0.9" height="11.73" fill="#c9545a"/>
<rect x="450.24" y="183.27" width="1.9" height="4.33" fill="#c9545a"/>
<rect x="452.75" y="174.99" width="0.9" height="18.96" fill="#24262e"/>
<rect x="452.25" y="176.45" width="1.9" height="11.16" fill="#24262e"/>
<rect x="454.77" y="171.32" width="0.9" height="9.96" fill="#24262e"/>
<rect x="454.27" y="176.00" width="1.9" height="0.80" fill="#24262e"/>
<rect x="456.78" y="174.57" width="0.9" height="9.60" fill="#c9545a"/>
<rect x="456.28" y="176.34" width="1.9" height="7.60" fill="#c9545a"/>
<rect x="458.79" y="178.78" width="0.9" height="12.73" fill="#c9545a"/>
<rect x="458.29" y="183.95" width="1.9" height="1.36" fill="#c9545a"/>
<rect x="460.80" y="182.50" width="0.9" height="5.58" fill="#c9545a"/>
<rect x="460.30" y="185.13" width="1.9" height="0.80" fill="#c9545a"/>
<rect x="462.81" y="182.05" width="0.9" height="6.96" fill="#24262e"/>
<rect x="462.31" y="185.25" width="1.9" height="0.80" fill="#24262e"/>
<rect x="464.82" y="185.31" width="0.9" height="23.11" fill="#c9545a"/>
<rect x="464.32" y="185.53" width="1.9" height="2.42" fill="#c9545a"/>
<rect x="466.83" y="187.03" width="0.9" height="18.89" fill="#c9545a"/>
<rect x="466.33" y="187.96" width="1.9" height="17.00" fill="#c9545a"/>
<rect x="468.84" y="200.29" width="0.9" height="10.40" fill="#24262e"/>
<rect x="468.34" y="202.40" width="1.9" height="2.56" fill="#24262e"/>
<rect x="470.85" y="196.19" width="0.9" height="8.22" fill="#24262e"/>
<rect x="470.35" y="197.84" width="1.9" height="4.56" fill="#24262e"/>
<rect x="472.86" y="194.44" width="0.9" height="9.29" fill="#c9545a"/>
<rect x="472.36" y="197.84" width="1.9" height="4.83" fill="#c9545a"/>
<rect x="474.87" y="194.82" width="0.9" height="15.16" fill="#c9545a"/>
<rect x="474.37" y="202.67" width="1.9" height="5.47" fill="#c9545a"/>
<rect x="476.88" y="197.84" width="0.9" height="15.90" fill="#24262e"/>
<rect x="476.38" y="200.95" width="1.9" height="7.19" fill="#24262e"/>
<rect x="478.89" y="197.33" width="0.9" height="4.41" fill="#24262e"/>
<rect x="478.39" y="199.12" width="1.9" height="1.82" fill="#24262e"/>
<rect x="480.90" y="186.11" width="0.9" height="13.02" fill="#24262e"/>
<rect x="480.40" y="188.54" width="1.9" height="10.58" fill="#24262e"/>
<rect x="482.91" y="183.72" width="0.9" height="5.76" fill="#24262e"/>
<rect x="482.41" y="187.79" width="1.9" height="0.80" fill="#24262e"/>
<rect x="484.92" y="176.13" width="0.9" height="12.76" fill="#24262e"/>
<rect x="484.42" y="176.97" width="1.9" height="10.87" fill="#24262e"/>
<rect x="486.93" y="174.37" width="0.9" height="6.26" fill="#24262e"/>
<rect x="486.43" y="174.57" width="1.9" height="2.40" fill="#24262e"/>
<rect x="488.94" y="168.94" width="0.9" height="10.28" fill="#24262e"/>
<rect x="488.44" y="171.92" width="1.9" height="2.65" fill="#24262e"/>
<rect x="490.95" y="170.22" width="0.9" height="7.82" fill="#c9545a"/>
<rect x="490.45" y="171.92" width="1.9" height="3.38" fill="#c9545a"/>
<rect x="492.96" y="170.42" width="0.9" height="10.53" fill="#c9545a"/>
<rect x="492.46" y="174.95" width="1.9" height="0.80" fill="#c9545a"/>
<rect x="494.98" y="170.32" width="0.9" height="8.14" fill="#c9545a"/>
<rect x="494.48" y="175.05" width="1.9" height="0.80" fill="#c9545a"/>
<rect x="496.99" y="172.02" width="0.9" height="11.37" fill="#c9545a"/>
<rect x="496.49" y="175.51" width="1.9" height="4.90" fill="#c9545a"/>
<rect x="499.00" y="172.42" width="0.9" height="9.41" fill="#24262e"/>
<rect x="498.50" y="172.63" width="1.9" height="7.78" fill="#24262e"/>
<rect x="501.01" y="170.42" width="0.9" height="5.40" fill="#24262e"/>
<rect x="500.51" y="171.92" width="1.9" height="0.80" fill="#24262e"/>
<rect x="503.02" y="161.54" width="0.9" height="11.91" fill="#24262e"/>
<rect x="502.52" y="161.54" width="1.9" height="10.48" fill="#24262e"/>
<rect x="505.03" y="158.46" width="0.9" height="6.90" fill="#c9545a"/>
<rect x="504.53" y="161.54" width="1.9" height="2.32" fill="#c9545a"/>
<rect x="507.04" y="161.17" width="0.9" height="5.15" fill="#24262e"/>
<rect x="506.54" y="161.90" width="1.9" height="1.95" fill="#24262e"/>
<rect x="509.05" y="161.63" width="0.9" height="7.31" fill="#c9545a"/>
<rect x="508.55" y="161.90" width="1.9" height="4.89" fill="#c9545a"/>
<rect x="511.06" y="162.00" width="0.9" height="6.35" fill="#24262e"/>
<rect x="510.56" y="162.00" width="1.9" height="4.80" fill="#24262e"/>
<rect x="513.07" y="157.31" width="0.9" height="7.02" fill="#c9545a"/>
<rect x="512.57" y="162.00" width="1.9" height="1.76" fill="#c9545a"/>
<rect x="515.08" y="163.57" width="0.9" height="6.74" fill="#c9545a"/>
<rect x="514.58" y="163.76" width="1.9" height="3.71" fill="#c9545a"/>
<rect x="517.09" y="167.47" width="0.9" height="6.17" fill="#c9545a"/>
<rect x="516.59" y="167.47" width="1.9" height="5.26" fill="#c9545a"/>
<rect x="519.10" y="167.67" width="0.9" height="5.98" fill="#24262e"/>
<rect x="518.60" y="169.82" width="1.9" height="2.91" fill="#24262e"/>
<rect x="521.11" y="164.32" width="0.9" height="5.99" fill="#24262e"/>
<rect x="520.61" y="165.74" width="1.9" height="4.08" fill="#24262e"/>
<rect x="523.12" y="163.29" width="0.9" height="3.31" fill="#24262e"/>
<rect x="522.62" y="165.34" width="1.9" height="0.80" fill="#24262e"/>
<rect x="525.13" y="165.65" width="0.9" height="6.67" fill="#c9545a"/>
<rect x="524.63" y="165.74" width="1.9" height="3.00" fill="#c9545a"/>
<rect x="527.14" y="156.25" width="0.9" height="13.17" fill="#24262e"/>
<rect x="526.64" y="158.19" width="1.9" height="10.55" fill="#24262e"/>
<rect x="529.15" y="155.82" width="0.9" height="20.42" fill="#c9545a"/>
<rect x="528.65" y="158.19" width="1.9" height="7.74" fill="#c9545a"/>
<rect x="531.16" y="165.17" width="0.9" height="12.44" fill="#c9545a"/>
<rect x="530.66" y="165.94" width="1.9" height="6.29" fill="#c9545a"/>
<rect x="533.17" y="166.51" width="0.9" height="7.96" fill="#24262e"/>
<rect x="532.67" y="166.51" width="1.9" height="5.71" fill="#24262e"/>
<rect x="535.19" y="164.70" width="0.9" height="9.98" fill="#c9545a"/>
<rect x="534.69" y="166.51" width="1.9" height="3.91" fill="#c9545a"/>
<rect x="537.20" y="170.12" width="0.9" height="12.49" fill="#c9545a"/>
<rect x="536.70" y="170.42" width="1.9" height="6.66" fill="#c9545a"/>
<rect x="539.21" y="173.44" width="0.9" height="15.92" fill="#c9545a"/>
<rect x="538.71" y="177.08" width="1.9" height="11.11" fill="#c9545a"/>
<rect x="541.22" y="185.88" width="0.9" height="19.35" fill="#c9545a"/>
<rect x="540.72" y="188.19" width="1.9" height="11.06" fill="#c9545a"/>
<rect x="543.23" y="190.55" width="0.9" height="11.31" fill="#24262e"/>
<rect x="542.73" y="192.36" width="1.9" height="6.89" fill="#24262e"/>
<rect x="545.24" y="189.37" width="0.9" height="8.60" fill="#c9545a"/>
<rect x="544.74" y="192.36" width="1.9" height="3.08" fill="#c9545a"/>
<rect x="547.25" y="189.37" width="0.9" height="9.24" fill="#24262e"/>
<rect x="546.75" y="191.76" width="1.9" height="3.68" fill="#24262e"/>
<rect x="549.26" y="190.55" width="0.9" height="8.70" fill="#c9545a"/>
<rect x="548.76" y="191.76" width="1.9" height="4.31" fill="#c9545a"/>
<rect x="551.27" y="192.97" width="0.9" height="6.93" fill="#24262e"/>
<rect x="550.77" y="195.35" width="1.9" height="0.80" fill="#24262e"/>
<rect x="553.28" y="192.97" width="0.9" height="4.36" fill="#c9545a"/>
<rect x="552.78" y="195.44" width="1.9" height="1.26" fill="#c9545a"/>
<rect x="555.29" y="186.45" width="0.9" height="10.88" fill="#24262e"/>
<rect x="554.79" y="188.78" width="1.9" height="7.92" fill="#24262e"/>
<rect x="557.30" y="184.17" width="0.9" height="12.52" fill="#c9545a"/>
<rect x="556.80" y="188.78" width="1.9" height="5.42" fill="#c9545a"/>
<rect x="559.31" y="192.97" width="0.9" height="14.33" fill="#c9545a"/>
<rect x="558.81" y="194.20" width="1.9" height="10.35" fill="#c9545a"/>
<rect x="561.32" y="202.53" width="0.9" height="13.45" fill="#c9545a"/>
<rect x="560.82" y="204.55" width="1.9" height="7.00" fill="#c9545a"/>
<rect x="563.33" y="209.40" width="0.9" height="24.52" fill="#c9545a"/>
<rect x="562.83" y="211.55" width="1.9" height="9.83" fill="#c9545a"/>
<rect x="565.34" y="218.26" width="0.9" height="13.04" fill="#c9545a"/>
<rect x="564.84" y="221.38" width="1.9" height="3.92" fill="#c9545a"/>
</svg>
<div class="txt">
<div class="pl" style="top:5.7px">475,000.00</div><div class="pl" style="top:25.9px">395,000.00</div><div class="pl" style="top:44.0px">335,000.00</div><div class="pl" style="top:61.8px">285,000.00</div><div class="pl" style="top:78.4px">245,000.00</div><div class="pl" style="top:98.0px">205,000.00</div><div class="pl" style="top:115.4px">175,000.00</div><div class="pl" style="top:132.3px">150,000.00</div><div class="pl" style="top:148.1px">130,000.00</div><div class="pl" style="top:166.4px">110,000.00</div><div class="pl" style="top:182.5px">95,000.00</div><div class="pl" style="top:198.0px">82,500.00</div><div class="pl" style="top:215.3px">70,500.00</div><div class="pl" style="top:232.1px">60,500.00</div><div class="pl" style="top:247.7px">52,500.00</div><div class="pl" style="top:265.9px">44,500.00</div><div class="pl" style="top:281.8px">38,500.00</div><div class="pl" style="top:297.1px">33,500.00</div><div class="pl" style="top:314.8px">28,500.00</div><div class="pl" style="top:331.5px">24,500.00</div><div class="pl" style="top:346.8px">21,300.00</div><div class="pl" style="top:363.5px">18,300.00</div><div class="pl" style="top:379.0px">15,900.00</div><div class="pl" style="top:395.3px">13,700.00</div><div class="pl" style="top:410.8px">11,900.00</div>
<div class="tl b" style="left:11.0px">2021</div><div class="tl b" style="left:115.5px">2022</div><div class="tl b" style="left:220.1px">2023</div><div class="tl b" style="left:324.6px">2024</div><div class="tl b" style="left:431.2px">2025</div><div class="tl b" style="left:535.7px">2026</div><div class="tl b" style="left:640.3px">2027</div><div class="tl" style="left:63.3px">Jul</div><div class="tl" style="left:167.8px">Jul</div><div class="tl" style="left:272.4px">Jul</div><div class="tl" style="left:378.9px">Jul</div><div class="tl" style="left:483.5px">Jul</div><div class="tl" style="left:588.0px">Jul</div><div class="tl" style="left:692.6px">Jul</div>
<div class="tag">67,066.27<br><span>4d 12h</span></div>
</div>
<svg class="gear" width="11" height="11" viewBox="0 0 11 11"><polygon points="2.1,5.3 3.75,2.3 7.05,2.3 8.7,5.3 7.05,8.3 3.75,8.3" fill="none" stroke="#2b2d35" stroke-width="0.9"/><circle cx="5.4" cy="5.3" r="1.3" fill="none" stroke="#2b2d35" stroke-width="0.8"/></svg>
</body></html>
